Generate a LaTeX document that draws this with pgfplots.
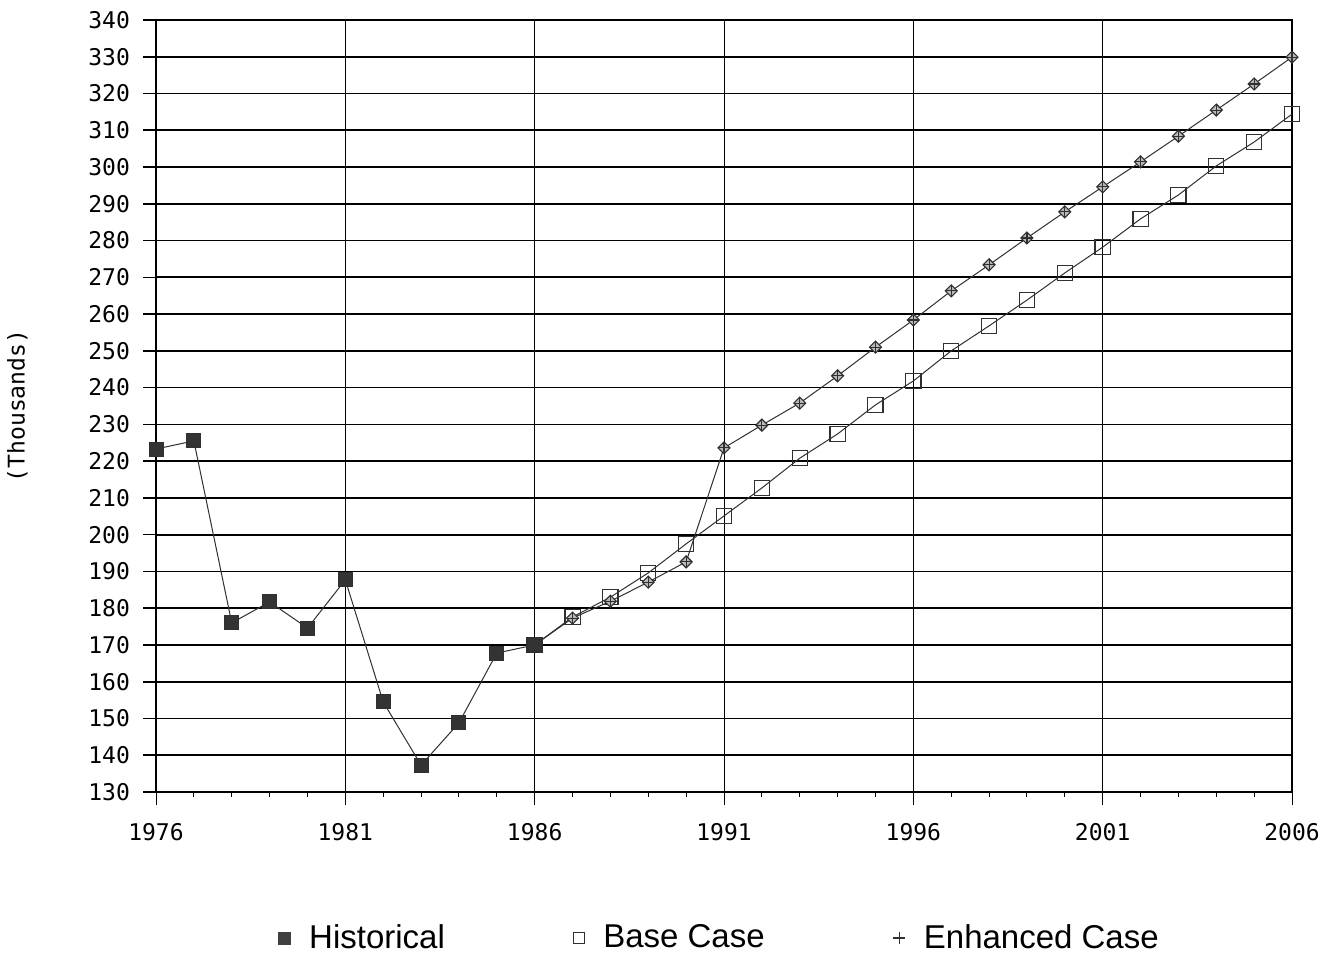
\documentclass[border=0pt]{standalone}
\usepackage{fontspec}
\setmainfont{Liberation Sans}
\newfontfamily\tickfont{DejaVu Sans Mono}
\usepackage{pgfplots}
\pgfplotsset{compat=1.18}
\definecolor{ink}{HTML}{303030}
\pgfdeclareplotmark{dplus}{%
  \pgfpathmoveto{\pgfqpoint{0pt}{\pgfplotmarksize}}%
  \pgfpathlineto{\pgfqpoint{\pgfplotmarksize}{0pt}}%
  \pgfpathlineto{\pgfqpoint{0pt}{-\pgfplotmarksize}}%
  \pgfpathlineto{\pgfqpoint{-\pgfplotmarksize}{0pt}}%
  \pgfpathclose
  \pgfusepathqfillstroke
  \pgfpathmoveto{\pgfqpoint{0pt}{\pgfplotmarksize}}%
  \pgfpathlineto{\pgfqpoint{0pt}{-\pgfplotmarksize}}%
  \pgfpathmoveto{\pgfqpoint{\pgfplotmarksize}{0pt}}%
  \pgfpathlineto{\pgfqpoint{-\pgfplotmarksize}{0pt}}%
  \pgfusepathqstroke
}
\begin{document}
\begin{tikzpicture}
\useasboundingbox (0,0) rectangle (668pt,479.5pt);
\begin{axis}[
  at={(78pt,83.5pt)}, anchor=south west,
  scale only axis, width=568pt, height=386pt,
  xmin=1976, xmax=2006, ymin=130, ymax=340,
  xtick={1976,1981,...,2006}, minor x tick num=4,
  ytick={130,140,...,340},
  xtick pos=left, ytick pos=left,
  tick align=outside,
  major tick length=6.5pt, minor tick length=2.5pt,
  xmajorgrids, ymajorgrids,
  every y tick/.style={black, line width=0.8pt},
  every x tick/.style={black, line width=0.5pt},
  y grid style={black, line width=0.85pt},
  x grid style={black, line width=0.5pt},
  axis line style={black, line width=0.7pt},
  /pgf/number format/assume math mode=true,
  /pgf/number format/1000 sep={},
  tick label style={font=\tickfont\fontsize{11.5}{12}\selectfont},
  xticklabel style={yshift=-5.5pt},
  yticklabel style={xshift=-3pt},
  ylabel={(Thousands)},
  ylabel style={at={(axis description cs:-0.122,0.5)}, anchor=center, font=\tickfont\fontsize{11.5}{12}\selectfont},
  legend columns=3,
  legend style={at={(axis description cs:0.497,-0.189)}, anchor=center, draw=none, fill=none,
    font=\fontsize{16.5}{18}\selectfont,
    /tikz/every even column/.append style={column sep=62pt},
    /tikz/every odd column/.append style={column sep=7pt}},
]
\addlegendimage{legend image code/.code={\fill[black!75] (0pt,-3pt) rectangle (6pt,3pt);}}
\addlegendentry{Historical}
\addlegendimage{legend image code/.code={\draw[ink, line width=0.6pt] (0pt,-2.8pt) rectangle (5.6pt,2.8pt);}}
\addlegendentry{Base Case}
\addlegendimage{legend image code/.code={\draw[ink, line width=0.6pt] (0pt,0pt) -- (6pt,0pt) (3pt,-3pt) -- (3pt,3pt);}}
\addlegendentry{Enhanced Case}
\addplot[ink, line width=0.5pt, mark=square, mark size=3.8pt, mark options={line width=0.6pt, fill=white}, forget plot]
coordinates {(1986,170) (1987,177.6) (1988,183.0) (1989,189.6) (1990,197.5) (1991,205.1) (1992,212.7) (1993,220.8) (1994,227.4) (1995,235.3) (1996,241.8) (1997,250.0) (1998,256.8) (1999,263.8) (2000,271.2) (2001,278.2) (2002,285.9) (2003,292.4) (2004,300.3) (2005,306.8) (2006,314.4)};
\addplot[ink, line width=0.5pt, mark=dplus, mark size=3pt, mark options={line width=0.55pt, fill=gray!55}, forget plot]
coordinates {(1986,170) (1987,177.3) (1988,181.9) (1989,187.1) (1990,192.6) (1991,223.6) (1992,229.8) (1993,235.8) (1994,243.2) (1995,251.0) (1996,258.4) (1997,266.3) (1998,273.4) (1999,280.7) (2000,287.8) (2001,294.6) (2002,301.4) (2003,308.4) (2004,315.5) (2005,322.6) (2006,329.9)};
\addplot[ink, line width=0.5pt, mark=square*, mark size=3.5pt, mark options={ink, fill=black!80}, forget plot]
coordinates {(1976,223.3) (1977,225.5) (1978,176.0) (1979,181.7) (1980,174.6) (1981,187.7) (1982,154.5) (1983,137.3) (1984,148.8) (1985,167.8) (1986,170.0)};
\end{axis}
\end{tikzpicture}
\end{document}
